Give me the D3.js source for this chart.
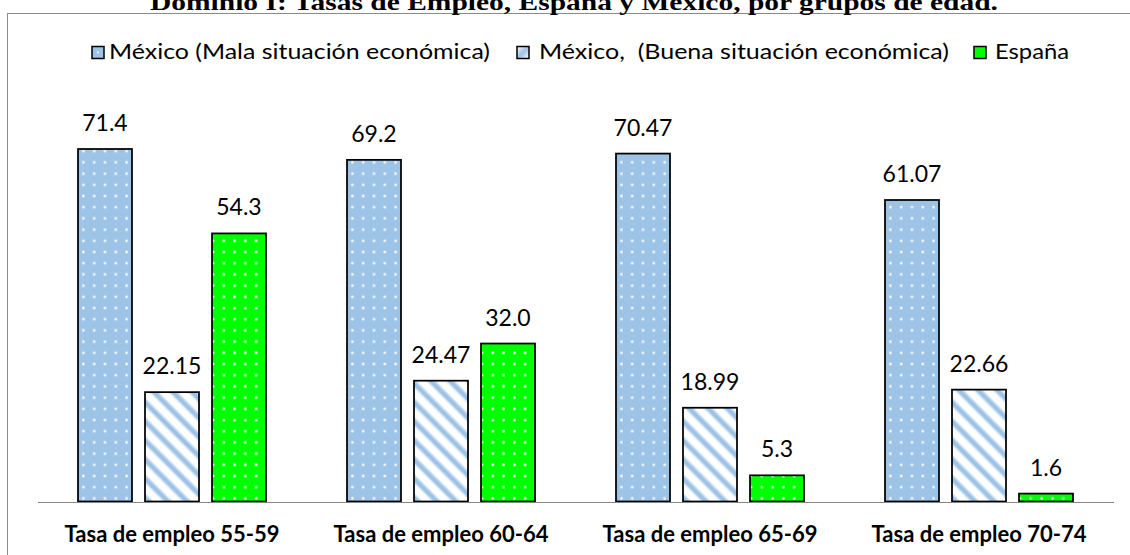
<!DOCTYPE html>
<html>
<head>
<meta charset="utf-8">
<script src="https://cdn.jsdelivr.net/npm/d3@7"></script>
<style>
  html, body { margin: 0; padding: 0; background: #fff; }
  svg { display: block; }
  text { white-space: pre; }
</style>
</head>
<body>
<svg id="chart" width="1130" height="555"></svg>
<script>
// Employment rates by age group
const categories = ["Tasa de empleo 55-59", "Tasa de empleo 60-64", "Tasa de empleo 65-69", "Tasa de empleo 70-74"];
const seriesNames = ["México (Mala situación económica)", "México,  (Buena situación económica)", "España"];
const mexicoMala = [71.4, 69.2, 70.47, 61.07];
const mexicoBuena = [22.15, 24.47, 18.99, 22.66];
const espana = [54.3, 32.0, 5.3, 1.6];
const labelDecimals = [null, null, 1];
const yTicks = [0, 80];

const title = "Dominio I: Tasas de Empleo, España y México, por grupos de edad.";

const seriesValues = [mexicoMala, mexicoBuena, espana];
const fills = ["url(#dotsBlue)", "url(#hatchBlue)", "url(#dotsGreen)"];

const svg = d3.select("#chart");
const defs = svg.append("defs");

// Dotted fills
function dotPattern(id, bg) {
  const p = defs.append("pattern")
    .attr("id", id).attr("patternUnits", "userSpaceOnUse")
    .attr("width", 10.8).attr("height", 11.2);
  p.append("rect").attr("width", 10.8).attr("height", 11.2).attr("fill", bg);
  p.append("circle").attr("cx", 5.4).attr("cy", 5.6).attr("r", 1.6)
    .attr("fill", "#fff").attr("opacity", 0.55);
  p.append("circle").attr("cx", 5.4).attr("cy", 5.6).attr("r", 0.9)
    .attr("fill", "#fff");
}
dotPattern("dotsBlue", "#9DC3E6");
dotPattern("dotsGreen", "#00FF00");

// Diagonal stripe fill
const hatch = defs.append("pattern")
  .attr("id", "hatchBlue").attr("patternUnits", "userSpaceOnUse")
  .attr("width", 13.5).attr("height", 13.5)
  .attr("patternTransform", "rotate(-45)");
hatch.append("rect").attr("width", 13.5).attr("height", 13.5).attr("fill", "#fff");
hatch.append("rect").attr("x", 2.5).attr("width", 7).attr("height", 13.5).attr("fill", "#D3E4F4");
hatch.append("rect").attr("x", 4).attr("width", 4).attr("height", 13.5).attr("fill", "#9DC3E6");

// Legend swatch gradient for the striped series
const lg = defs.append("linearGradient").attr("id", "legendHatch")
  .attr("x1", 0).attr("y1", 0).attr("x2", 1).attr("y2", 1);
lg.append("stop").attr("offset", "0%").attr("stop-color", "#fff");
lg.append("stop").attr("offset", "50%").attr("stop-color", "#9DC3E6");
lg.append("stop").attr("offset", "100%").attr("stop-color", "#fff");

// Chart frame
svg.append("rect")
  .attr("x", 7.5).attr("y", 13.5).attr("width", 1140).attr("height", 560)
  .attr("fill", "none").attr("stroke", "#8A8A8A").attr("stroke-width", 1);

// Title (runs off the top edge of the page)
svg.append("text")
  .attr("x", 150).attr("y", 9.5)
  .attr("textLength", 848)
  .attr("lengthAdjust", "spacingAndGlyphs")
  .attr("font-family", "'Liberation Serif', 'Times New Roman', serif")
  .attr("font-weight", "bold").attr("font-size", 23)
  .attr("fill", "#000")
  .text(title);

// Scales
const x0 = d3.scaleBand()
  .domain(categories)
  .range([37.5, 1113.5])
  .paddingInner(81 / 269)
  .paddingOuter(40.5 / 269);

const x1 = d3.scaleBand()
  .domain(d3.range(seriesValues.length))
  .range([0, x0.bandwidth()])
  .paddingInner(13 / 67);

const y = d3.scaleLinear()
  .domain(d3.extent(yTicks))
  .range([501.5, 501.5 - 80 * 4.937]);

// Bars
const groups = svg.append("g").selectAll("g")
  .data(categories)
  .join("g")
  .attr("transform", d => `translate(${x0(d)},0)`);

groups.each(function (cat, ci) {
  const g = d3.select(this);
  const rows = seriesValues.map((vals, si) => ({ si, v: vals[ci] }));
  g.selectAll("rect")
    .data(rows)
    .join("rect")
    .attr("x", d => x1(d.si))
    .attr("y", d => y(d.v))
    .attr("width", x1.bandwidth())
    .attr("height", d => y(0) - y(d.v))
    .attr("fill", d => fills[d.si])
    .attr("stroke", "#000")
    .attr("stroke-width", 1.75);

  g.selectAll("text.value")
    .data(rows)
    .join("text")
    .attr("class", "value")
    .attr("x", d => x1(d.si) + x1.bandwidth() / 2)
    .attr("y", d => y(d.v) - 18)
    .attr("text-anchor", "middle")
    .attr("font-family", "Lato, 'Open Sans', sans-serif")
    .attr("font-size", 23)
    .attr("fill", "#000")
    .text(d => labelDecimals[d.si] == null ? String(d.v) : d.v.toFixed(labelDecimals[d.si]));
});

// Category axis
const xAxis = svg.append("g")
  .attr("transform", `translate(0,${y(0) + 0.5})`)
  .call(d3.axisBottom(x0).tickSize(0).tickSizeOuter(0).tickPadding(0));
xAxis.select(".domain").attr("stroke", "#868686").attr("stroke-width", 1);
xAxis.selectAll(".tick text")
  .attr("dy", null)
  .attr("y", 39.5)
  .attr("font-family", "Lato, 'Open Sans', sans-serif")
  .attr("font-weight", "bold")
  .attr("font-size", 22)
  .attr("fill", "#000");

// Legend
const legendItems = [
  { x: 92, tx: 109, w: 381, fill: "#9DC3E6", dot: true },
  { x: 517, tx: 539, w: 410, fill: "url(#legendHatch)", dot: false },
  { x: 974, tx: 995, w: 74, fill: "#00FF00", dot: false }
];
const legend = svg.append("g");
legendItems.forEach((it, i) => {
  legend.append("rect")
    .attr("x", it.x).attr("y", 46.5)
    .attr("width", 12).attr("height", 12)
    .attr("fill", it.fill)
    .attr("stroke", "#000").attr("stroke-width", 1.5);
  if (it.dot) {
    legend.append("circle").attr("cx", it.x + 6).attr("cy", 52.5).attr("r", 1)
      .attr("fill", "#fff");
  }
  legend.append("text")
    .attr("x", it.tx).attr("y", 59)
    .attr("textLength", it.w)
    .attr("lengthAdjust", "spacingAndGlyphs")
    .attr("font-family", "Lato, 'Open Sans', sans-serif")
    .attr("font-size", 21)
    .attr("fill", "#000")
    .text(seriesNames[i]);
});
</script>
</body>
</html>
